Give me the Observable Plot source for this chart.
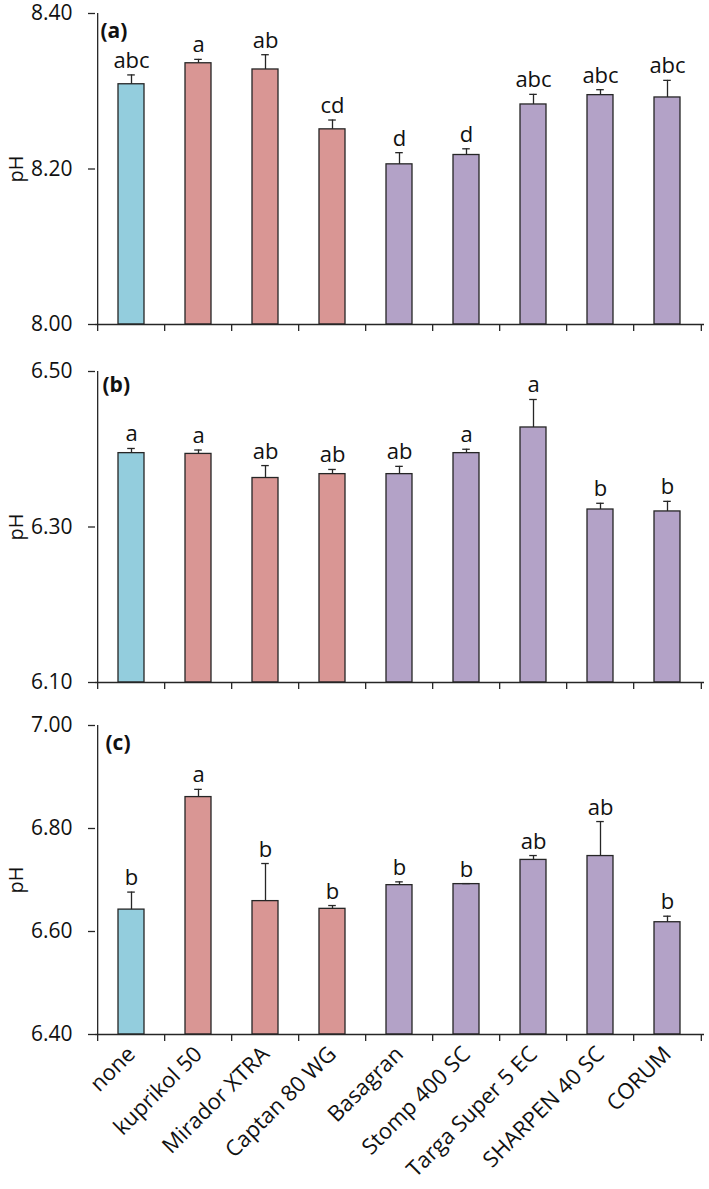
<!DOCTYPE html>
<html><head><meta charset="utf-8">
<script src="https://cdn.jsdelivr.net/npm/d3@7"></script>
<script src="https://cdn.jsdelivr.net/npm/@observablehq/plot@0.6"></script>
<style>body{margin:0;background:#fff;} #chart svg{display:block;}</style>
</head><body><div id="chart"></div>
<script>
const treatments = ["none","kuprikol 50","Mirador XTRA","Captan 80 WG","Basagran","Stomp 400 SC","Targa Super 5 EC","SHARPEN 40 SC","CORUM"];
const groups = ["control","fungicide","fungicide","fungicide","herbicide","herbicide","herbicide","herbicide","herbicide"];

const phA = [8.309, 8.336, 8.328, 8.251, 8.206, 8.218, 8.283, 8.295, 8.292];
const errA = [0.012, 0.005, 0.019, 0.012, 0.015, 0.008, 0.013, 0.007, 0.022];
const lettersA = ["abc","a","ab","cd","d","d","abc","abc","abc"];
const yTicksA = [8.00, 8.20, 8.40];

const phB = [6.395, 6.394, 6.363, 6.368, 6.368, 6.395, 6.428, 6.3225, 6.320];
const errB = [0.006, 0.005, 0.016, 0.006, 0.010, 0.005, 0.036, 0.008, 0.013];
const lettersB = ["a","a","ab","ab","ab","a","a","b","b"];
const yTicksB = [6.10, 6.30, 6.50];

const phC = [6.6425, 6.861, 6.659, 6.644, 6.690, 6.692, 6.739, 6.7465, 6.618];
const errC = [0.034, 0.015, 0.073, 0.0064, 0.0064, 0.001, 0.0085, 0.067, 0.0117];
const lettersC = ["b","a","b","b","b","b","ab","ab","b"];
const yTicksC = [6.40, 6.60, 6.80, 7.00];

const panelLabels = ["(a)","(b)","(c)"];

const W = 709, ML = 95, MR = 5;
const step = (W - ML - MR) / treatments.length;
const FONT = "'Open Sans', 'Noto Sans', sans-serif";
const INK = "#262626";

function panel({ph, err, letters, ticks, label, height, mt, mb, labelDx, labelDy, showX}) {
  const data = treatments.map((t, i) => ({t, g: groups[i], v: ph[i], e: err[i], l: letters[i]}));
  const y0 = ticks[0], y1 = ticks[ticks.length - 1];
  const marks = [
    Plot.barY(data, {x: "t", y1: () => y0, y2: "v", fill: "g", stroke: INK, strokeWidth: 1.3}),
    Plot.ruleX(data, {x: "t", y1: "v", y2: d => d.v + d.e, stroke: INK, strokeWidth: 1.3}),
    Plot.tickY(data, {x: "t", y: d => d.v + d.e, stroke: INK, strokeWidth: 1.3, insetLeft: 9.2, insetRight: 9.2}),
    Plot.text(data, {x: "t", y: d => d.v + d.e, text: "l", dy: -7, lineAnchor: "bottom", fontSize: 22, fill: "#111"}),
    Plot.ruleY([y0], {stroke: INK, strokeWidth: 1.3}),
    Plot.ruleX([treatments[0]], {y1: () => y0, y2: () => y1, dx: -step / 2, stroke: INK, strokeWidth: 1.3}),
    Plot.axisY({ticks, tickFormat: d => d.toFixed(2), tickSize: 7, tickPadding: 16, label: null, fontSize: 21, stroke: INK, strokeWidth: 1.3}),
    Plot.axisX({tickSize: 7, tickFormat: () => "", dx: -step / 2, label: null, stroke: INK, strokeWidth: 1.3}),
    Plot.axisX({ticks: [treatments[treatments.length - 1]], tickSize: 7, tickFormat: () => "", dx: step / 2, label: null, stroke: INK, strokeWidth: 1.3}),
    Plot.text(["pH"], {frameAnchor: "left", text: d => d, rotate: -90, dx: -79, fontSize: 20, textAnchor: "middle", lineAnchor: "middle", fill: "#111"}),
    Plot.text([label], {frameAnchor: "top-left", text: d => d, dx: labelDx, dy: labelDy, fontSize: 21, fontWeight: "bold", textAnchor: "start", lineAnchor: "top", fill: "#111"})
  ];
  if (showX) {
    marks.push(Plot.axisX({tickSize: 0, tickPadding: 16, tickRotate: -45, label: null, fontSize: 22, fill: "#111"}));
  }
  return Plot.plot({
    width: W, height,
    marginLeft: ML, marginRight: MR, marginTop: mt, marginBottom: mb,
    style: {fontFamily: FONT, fontSize: "21px", background: "#fff", color: "#111", overflow: "visible"},
    x: {type: "band", domain: treatments, paddingInner: 0.61, paddingOuter: 0.305, axis: null},
    y: {domain: [y0, y1], axis: null},
    color: {domain: ["control","fungicide","herbicide"], range: ["#93CDDD","#D99694","#B3A2C7"]},
    marks
  });
}

const chart = document.getElementById("chart");
chart.append(panel({ph: phA, err: errA, letters: lettersA, ticks: yTicksA, label: panelLabels[0], height: 347, mt: 13, mb: 23, labelDx: 5, labelDy: 10, showX: false}));
chart.append(panel({ph: phB, err: errB, letters: lettersB, ticks: yTicksB, label: panelLabels[1], height: 356, mt: 24, mb: 21, labelDx: 7, labelDy: 6, showX: false}));
chart.append(panel({ph: phC, err: errC, letters: lettersC, ticks: yTicksC, label: panelLabels[2], height: 486, mt: 22, mb: 155, labelDx: 10, labelDy: 10, showX: true}));
</script>
</body></html>
